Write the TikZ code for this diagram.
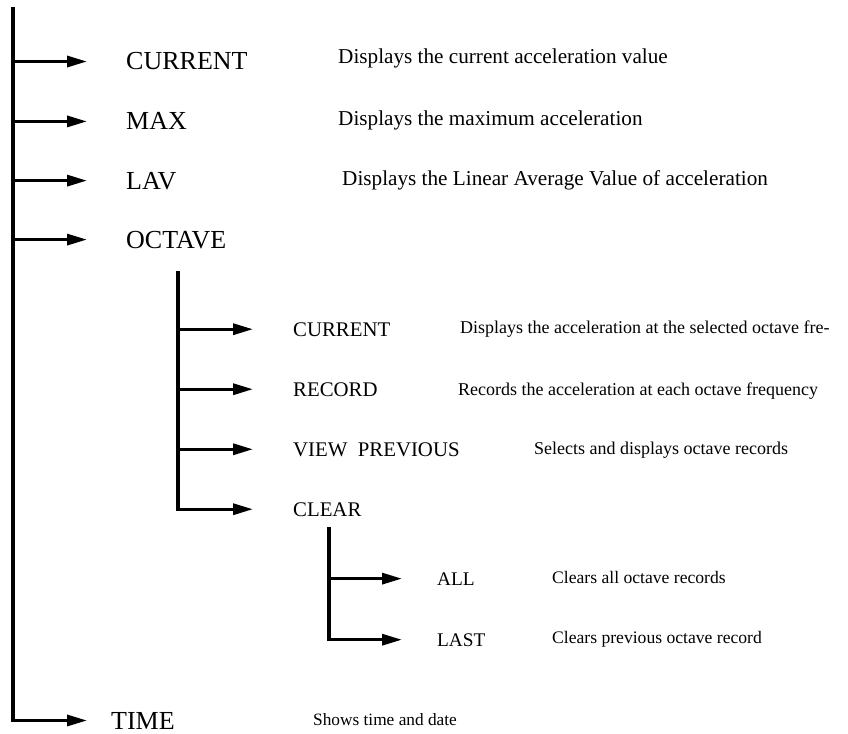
\documentclass[tikz,border=0pt]{standalone}
\usepackage{fontspec}
\setmainfont{Liberation Serif}
\usetikzlibrary{arrows.meta}
\tikzset{
  branch/.style={line width=3.2pt, -{Triangle[length=20pt,width=11pt]}},
  menu/.style={anchor=base west, inner sep=0pt},
  toplabel/.style={menu, font=\fontsize{26}{30}\selectfont},
  sublabel/.style={menu, font=\fontsize{20.8}{24}\selectfont},
  leaflabel/.style={menu, font=\fontsize{19.3}{22}\selectfont},
  topnote/.style={menu, font=\fontsize{21.2}{24}\selectfont},
  subnote/.style={menu, font=\fontsize{18}{21}\selectfont},
  leafnote/.style={menu, font=\fontsize{17.6}{20}\selectfont}
}
\begin{document}
\begin{tikzpicture}[x=1pt, y=-1pt]
    \useasboundingbox (0,0) rectangle (848,733);
    % Top level menu
    \foreach \n/\b/\txt in {cur/70/CURRENT, max/130/MAX, lav/189/LAV, oct/248/OCTAVE} {
        \node[toplabel] (\n) at (126,\b) {\txt};
    }
    \node[toplabel] (time) at (111,729) {TIME};
    \node[topnote] (curnote) at (338,64) {Displays the current acceleration value};
    \node[topnote] (maxnote) at (338,125) {Displays the maximum acceleration};
    \node[topnote] (lavnote) at (342,185) {Displays the Linear Average Value of acceleration};
    \node[leafnote, font=\fontsize{17.3}{20}\selectfont] (timenote) at (313,725) {Shows time and date};
    % Octave submenu
    \foreach \n/\b/\txt in {ocur/336/CURRENT, rec/396/RECORD, view/456/VIEW\ \ PREVIOUS, clr/516/CLEAR} {
        \node[sublabel] (\n) at (293,\b) {\txt};
    }
    \node[subnote] (ocurnote) at (460,333) {Displays the acceleration at the selected octave fre-};
    \node[subnote] (recnote) at (458,395) {Records the acceleration at each octave frequency};
    \node[subnote] (viewnote) at (534,454) {Selects and displays octave records};
    % Clear submenu
    \node[leaflabel] (all) at (437,585) {ALL};
    \node[leaflabel] (last) at (437,646) {LAST};
    \node[leafnote] (allnote) at (552,583) {Clears all octave records};
    \node[leafnote] (lastnote) at (552,643) {Clears previous octave record};
    % Spines and branches
    \coordinate (top) at (13,7);
    \coordinate (octtop) at (178,271);
    \coordinate (clrtop) at (329,527);
    \draw[branch, shorten >=24pt] (top) |- (time.west);
    \foreach \n in {cur,max,lav,oct}
    {   \draw[branch, shorten >=39pt] (\n.west -| top) -- (\n.west);}
    \draw[branch, shorten >=40pt] (octtop) |- (clr.west);
    \foreach \n in {ocur,rec,view}
    {   \draw[branch, shorten >=40pt] (\n.west -| octtop) -- (\n.west);}
    \draw[branch, shorten >=35pt] (clrtop) |- (last.west);
    \draw[branch, shorten >=35pt] (all.west -| clrtop) -- (all.west);
\end{tikzpicture}
\end{document}
